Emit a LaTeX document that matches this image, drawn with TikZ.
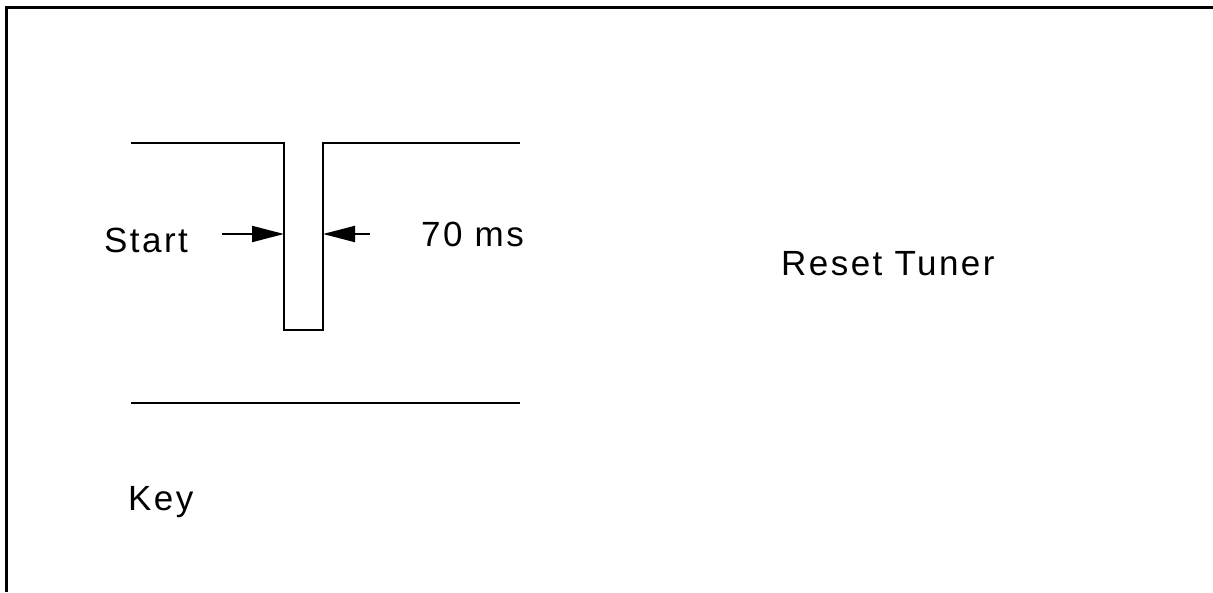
\documentclass[tikz,border=0pt]{standalone}
\usepackage{fontspec}
\setmainfont{Liberation Sans}[LetterSpace=7]
\usetikzlibrary{arrows.meta}
\begin{document}
\begin{tikzpicture}[x=1pt,y=-1pt,
  frame/.style={line width=3pt, black},
  sig/.style={line width=2pt, black, line join=miter},
  dim/.style={line width=2pt, black, -{Triangle[length=32pt,width=16pt]}},
  lbl/.style={anchor=base west, inner sep=0pt, font=\fontsize{35}{40}\selectfont}]
\useasboundingbox (0,0) rectangle (1213,592);
\fill[white] (0,0) rectangle (1213,592);
\draw[frame] (6.5,592) -- (6.5,7.5) -- (1213,7.5);
% waveform corners
\coordinate (p1) at (131,143);
\coordinate (p2) at (284,143);
\coordinate (p3) at (284,330);
\coordinate (p4) at (323,330);
\coordinate (p5) at (323,143);
\coordinate (p6) at (520,143);
\coordinate (k1) at (131,403);
\coordinate (k2) at (520,403);
\draw[sig] (p1) -- (p2) -- (p3) -- (p4) -- (p5) -- (p6);
\draw[sig] (k1) -- (k2);
% dimension arrows
\coordinate (a1s) at (222,234);
\coordinate (a1e) at (284,234);
\coordinate (a2s) at (370,234);
\coordinate (a2e) at (323,234);
\draw[dim] (a1s) -- (a1e);
\draw[dim] (a2s) -- (a2e);
% labels
\node[lbl] (start) at (104,252) {Start};
\node[lbl] (ms) at (421,246) {70 ms};
\node[lbl] (reset) at (781,275) {Reset Tuner};
\node[lbl] (key) at (128,510) {Key};
\end{tikzpicture}
\end{document}
